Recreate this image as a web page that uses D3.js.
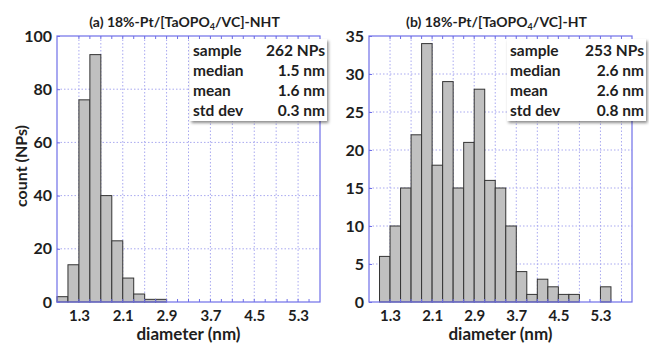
<!DOCTYPE html>
<html>
<head>
<meta charset="utf-8">
<script src="https://cdn.jsdelivr.net/npm/d3@7"></script>
<style>
  body { margin: 0; background: #fff; }
  svg { display: block; font-family: Lato, "Open Sans", sans-serif; }
</style>
</head>
<body>
<svg id="chart" width="649" height="346"></svg>
<script>
// histogram counts, bins of 0.2 nm
const binWidth = 0.2;
const startA = 0.9;
const countsA = [2, 14, 76, 93, 40, 23, 9, 3, 1, 1];
const startB = 1.1;
const countsB = [6, 10, 15, 22, 34, 18, 29, 15, 21, 28, 16, 15, 10, 4, 1, 3, 2, 1, 1, 0, 0, 2];

const xTicks = [1.3, 2.1, 2.9, 3.7, 4.5, 5.3];
const yTicksA = [0, 20, 40, 60, 80, 100];
const yTicksB = [0, 5, 10, 15, 20, 25, 30, 35];

const statNames = ["sample", "median", "mean", "std dev"];
const statsA = ["262 NPs", "1.5 nm", "1.6 nm", "0.3 nm"];
const statsB = ["253 NPs", "2.6 nm", "2.6 nm", "0.8 nm"];

const blue = "#6f6fe8";
const grid = "#a9a9f0";
const ink = "#1e1e1e";

const svg = d3.select("#chart");

const defs = svg.append("defs");
const f = defs.append("filter").attr("id", "shadow")
  .attr("x", "-10%").attr("y", "-10%").attr("width", "130%").attr("height", "130%");
f.append("feDropShadow").attr("dx", 1.5).attr("dy", 2).attr("stdDeviation", 1.5)
  .attr("flood-color", "#000").attr("flood-opacity", 0.45);

const panels = [
  { letter: "a", suffix: "NHT", start: startA, counts: countsA, yTicks: yTicksA, yMax: 100,
    xDomain: [0.9, 5.7], left: 57, right: 320, stats: statsA, box: [190, 327] },
  { letter: "b", suffix: "HT", start: startB, counts: countsB, yTicks: yTicksB, yMax: 35,
    xDomain: [0.9, 5.9], left: 369, right: 632, stats: statsB, box: [507, 646] }
];

const plotTop = 36, plotBottom = 302;

panels.forEach(p => {
  const x = d3.scaleLinear().domain(p.xDomain).range([p.left, p.right]);
  const y = d3.scaleLinear().domain([0, p.yMax]).range([plotBottom, plotTop]);
  const g = svg.append("g");

  // grid
  const vGrid = d3.range(1.3, p.xDomain[1] - 0.01, 0.4);
  g.selectAll(".vg").data(vGrid).join("line")
    .attr("x1", d => x(d)).attr("x2", d => x(d))
    .attr("y1", plotTop).attr("y2", plotBottom)
    .attr("stroke", grid).attr("stroke-dasharray", "1.5,2").attr("stroke-width", 1);
  g.selectAll(".hg").data(p.yTicks.slice(1, -1)).join("line")
    .attr("x1", p.left).attr("x2", p.right)
    .attr("y1", d => y(d)).attr("y2", d => y(d))
    .attr("stroke", grid).attr("stroke-dasharray", "1.5,2").attr("stroke-width", 1);

  // bars
  const bins = p.counts.map((c, i) => ({ x0: p.start + i * binWidth, n: c })).filter(b => b.n > 0);
  g.selectAll("rect.bar").data(bins).join("rect")
    .attr("x", d => x(d.x0))
    .attr("width", d => x(d.x0 + binWidth) - x(d.x0))
    .attr("y", d => y(d.n))
    .attr("height", d => y(0) - y(d.n))
    .attr("fill", "#c0c0c0")
    .attr("stroke", "#333")
    .attr("stroke-width", 1);

  // frame
  g.append("rect").attr("x", p.left).attr("y", plotTop)
    .attr("width", p.right - p.left).attr("height", plotBottom - plotTop)
    .attr("fill", "none").attr("stroke", blue).attr("stroke-width", 1.2);

  // minor ticks on top and bottom
  const minor = d3.range(1.3, p.xDomain[1] - 0.01, 0.2);
  g.selectAll(".tt").data(minor).join("line")
    .attr("x1", d => x(d)).attr("x2", d => x(d))
    .attr("y1", plotTop).attr("y2", plotTop + 3).attr("stroke", blue);
  g.selectAll(".bt").data(minor).join("line")
    .attr("x1", d => x(d)).attr("x2", d => x(d))
    .attr("y1", plotBottom).attr("y2", plotBottom - 3).attr("stroke", blue);

  // axes labels
  const xAxis = d3.axisBottom(x).tickValues(xTicks).tickSize(0).tickPadding(8).tickFormat(d3.format(".1f"));
  const xa = g.append("g").attr("transform", `translate(0,${plotBottom})`).call(xAxis);
  xa.select(".domain").remove();
  xa.selectAll("text").attr("font-size", 15).attr("font-weight", "bold").attr("fill", ink)
    .attr("font-family", "Lato, sans-serif");

  const yAxis = d3.axisLeft(y).tickValues(p.yTicks).tickSizeInner(-3).tickSizeOuter(0).tickPadding(5);
  const ya = g.append("g").attr("transform", `translate(${p.left},0)`).call(yAxis);
  ya.select(".domain").remove();
  ya.selectAll("line").attr("stroke", blue);
  ya.selectAll("text").attr("font-size", 16).attr("font-weight", "bold").attr("fill", ink)
    .attr("font-family", "Lato, sans-serif");

  // title
  const t = svg.append("text")
    .attr("x", (p.left + p.right) / 2 - 4).attr("y", 27)
    .attr("text-anchor", "middle").attr("font-size", 14).attr("font-weight", "bold").attr("fill", ink);
  t.append("tspan").text(`(${p.letter}) 18%-Pt/[TaOPO`);
  t.append("tspan").text("4").attr("font-size", 9).attr("dy", 3);
  t.append("tspan").text(`/VC]-${p.suffix}`).attr("dy", -3);

  // x label
  svg.append("text").attr("x", (p.left + p.right) / 2).attr("y", 340)
    .attr("text-anchor", "middle").attr("font-size", 17).attr("font-weight", "bold").attr("fill", ink)
    .text("diameter (nm)");

  // stats box
  const bx = p.box[0], bw = p.box[1] - p.box[0];
  svg.append("rect").attr("x", bx).attr("y", plotTop + 3).attr("width", bw).attr("height", 82)
    .attr("fill", "#fff").attr("filter", "url(#shadow)");
  statNames.forEach((s, i) => {
    svg.append("text").attr("x", bx + 3).attr("y", 56 + i * 20)
      .attr("font-size", 15.5).attr("font-weight", "bold").attr("fill", ink).text(s);
    svg.append("text").attr("x", bx + bw - 2).attr("y", 56 + i * 20).attr("text-anchor", "end")
      .attr("font-size", 15.5).attr("font-weight", "bold").attr("fill", ink).text(p.stats[i]);
  });
});

// y label
svg.append("text").attr("transform", "translate(27,166) rotate(-90)")
  .attr("text-anchor", "middle").attr("font-size", 16).attr("font-weight", "bold").attr("fill", ink)
  .text("count (NPs)");
</script>
</body>
</html>
